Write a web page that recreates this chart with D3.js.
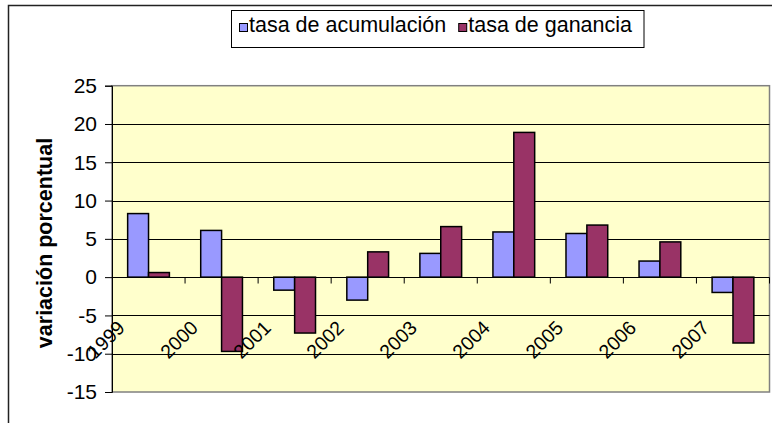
<!DOCTYPE html>
<html>
<head>
<meta charset="utf-8">
<script src="https://cdn.jsdelivr.net/npm/d3@7"></script>
<style>
  body { margin: 0; background: #fff; }
  text { font-family: "Liberation Sans", Arial, sans-serif; }
</style>
</head>
<body>
<div id="container"></div>
<script>
//Data
const years = ["1999", "2000", "2001", "2002", "2003", "2004", "2005", "2006", "2007"];
const series = ["tasa de acumulación", "tasa de ganancia"];
const acumulacion = [8.3, 6.1, -1.7, -3.0, 3.1, 5.9, 5.7, 2.1, -2.0];
const ganancia = [0.6, -9.7, -7.3, 3.3, 6.6, 18.9, 6.8, 4.6, -8.6];
const yTicks = [-15, -10, -5, 0, 5, 10, 15, 20, 25];
const colors = ["#9999FF", "#993366"];

//Create dimensions
const width = 772;
const height = 423;
const plot = {left: 112, right: 769.5, top: 85.7, bottom: 392};

//Create a svg element
const svg = d3.select("#container")
    .append("svg")
    .attr("width", width)
    .attr("height", height);

//Outer chart frame
svg.append("rect")
    .attr("x", 8.5)
    .attr("y", 5.5)
    .attr("width", width + 20)
    .attr("height", height + 20)
    .attr("fill", "#fff")
    .attr("stroke", "#222")
    .attr("stroke-width", 1.5);

//Scales
const x0 = d3.scaleBand()
    .domain(years)
    .range([plot.left, plot.right]);

const x1 = d3.scaleBand()
    .domain(series)
    .range([0, x0.bandwidth()])
    .paddingInner(0)
    .paddingOuter(0.75);

const y = d3.scaleLinear()
    .domain([-15, 25])
    .range([plot.bottom, plot.top]);

const color = d3.scaleOrdinal(series, colors);

//Plot background
svg.append("rect")
    .attr("x", plot.left)
    .attr("y", plot.top)
    .attr("width", plot.right - plot.left)
    .attr("height", plot.bottom - plot.top)
    .attr("fill", "#FFFFCC")
    .attr("stroke", "#808080")
    .attr("stroke-width", 1.5);

//Gridlines
svg.append("g")
    .selectAll("line")
    .data(yTicks.filter(d => d > -15 && d < 25 && d !== 0))
    .join("line")
    .attr("x1", plot.left)
    .attr("x2", plot.right)
    .attr("y1", d => Math.round(y(d)) + 0.5)
    .attr("y2", d => Math.round(y(d)) + 0.5)
    .attr("stroke", "#000");

//Y axis
const yAxis = svg.append("g")
    .attr("transform", `translate(${plot.left},0)`)
    .call(d3.axisLeft(y).tickValues(yTicks).tickSize(7).tickPadding(8).tickFormat(d => String(d)));

yAxis.attr("font-size", null).attr("font-family", null);
yAxis.select(".domain").attr("stroke", "#000");
yAxis.selectAll(".tick line").attr("stroke", "#000");
yAxis.selectAll(".tick text")
    .style("font-size", "21px")
    .attr("fill", "#000");

//Y axis title
svg.append("text")
    .attr("transform", "translate(52,243) rotate(-90)")
    .attr("text-anchor", "middle")
    .style("font-size", "21.5px")
    .style("font-weight", "bold")
    .text("variación porcentual");

//Bars
const groups = svg.append("g")
    .selectAll("g")
    .data(years)
    .join("g")
    .attr("transform", d => `translate(${x0(d)},0)`);

groups.selectAll("rect")
    .data((d, i) => [
        {key: series[0], value: acumulacion[i]},
        {key: series[1], value: ganancia[i]}
    ])
    .join("rect")
    .attr("x", d => x1(d.key))
    .attr("y", d => y(Math.max(0, d.value)))
    .attr("width", x1.bandwidth())
    .attr("height", d => Math.abs(y(d.value) - y(0)))
    .attr("fill", d => color(d.key))
    .attr("stroke", "#000")
    .attr("stroke-width", 1.5);

//Zero axis with category ticks
const zeroY = Math.round(y(0)) + 0.5;
svg.append("line")
    .attr("x1", plot.left)
    .attr("x2", plot.right)
    .attr("y1", zeroY)
    .attr("y2", zeroY)
    .attr("stroke", "#000");

svg.append("g")
    .selectAll("line")
    .data(years)
    .join("line")
    .attr("x1", d => x0(d) + x0.step())
    .attr("x2", d => x0(d) + x0.step())
    .attr("y1", zeroY)
    .attr("y2", zeroY + 6)
    .attr("stroke", "#000");

//Category labels, rotated
svg.append("g")
    .selectAll("text")
    .data(years)
    .join("text")
    .attr("x", d => x0(d) + x0.bandwidth() / 2 - 22.5)
    .attr("y", 329)
    .attr("transform", d => `rotate(-45 ${x0(d) + x0.bandwidth() / 2 - 22.5} 329)`)
    .attr("text-anchor", "end")
    .style("font-size", "19.5px")
    .text(d => d);

//Legend
const legend = svg.append("g").attr("id", "legend");
const legendBox = legend.append("rect")
    .attr("x", 231.5)
    .attr("y", 10.5)
    .attr("height", 37)
    .attr("fill", "#fff")
    .attr("stroke", "#000");

let lx = 239;
series.forEach((s, i) => {
    legend.append("rect")
        .attr("x", lx + 0.5)
        .attr("y", 23.5)
        .attr("width", 8)
        .attr("height", 8)
        .attr("fill", color(s))
        .attr("stroke", "#000");
    const t = legend.append("text")
        .attr("x", lx + 10)
        .attr("y", 32)
        .style("font-size", "21.5px")
        .text(s);
    lx = lx + 10 + t.node().getComputedTextLength() + 12;
});
legendBox.attr("width", lx - 231.5);
</script>
</body>
</html>
